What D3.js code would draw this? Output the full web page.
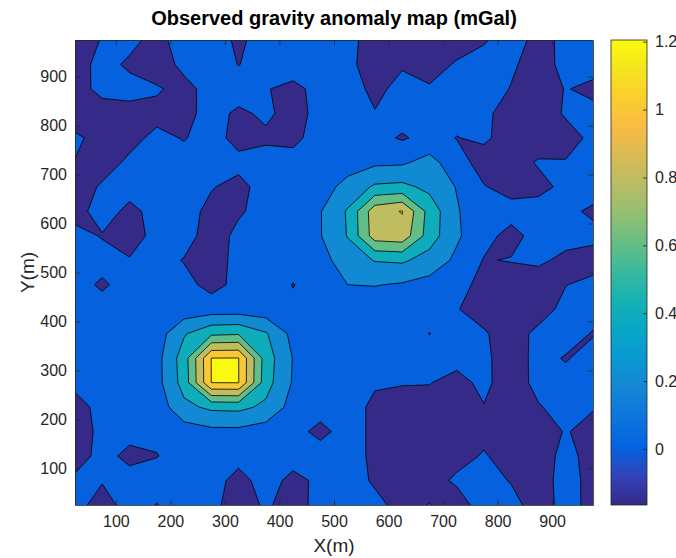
<!DOCTYPE html>
<html>
<head>
<meta charset="utf-8">
<script src="https://cdn.jsdelivr.net/npm/d3@7"></script>
<style>
  body { margin: 0; background: #fff; }
  text { font-family: "Liberation Sans", Arial, sans-serif; fill: #262626; }
</style>
</head>
<body>
<div id="chart"></div>
<script>
// grid of observation points (m)
const xGrid = [25, 75, 125, 175, 225, 275, 325, 375, 425, 475, 525, 575, 625, 675, 725, 775, 825, 875, 925, 975];
const yGrid = [975, 925, 875, 825, 775, 725, 675, 625, 575, 525, 475, 425, 375, 325, 275, 225, 175, 125, 75, 25];

// observed anomaly (mGal), one row per yGrid value, top row first
const anomaly = [
  [-0.09, 0.01, 0.05, -0.06, 0.09, 0.08, -0.03, 0.07, 0.06, 0.08, 0.04, -0.06, -0.10, -0.08, -0.09, -0.02, 0.10, -0.07, 0.05, 0.06],
  [-0.08, 0.06, -0.03, -0.10, 0.05, 0.09, -0.005, 0.08, 0.10, 0.07, 0.035, -0.07, -0.02, -0.08, 0.02, 0.08, 0.03, -0.09, 0.06, 0.08],
  [-0.07, 0.05, 0.06, 0.02, -0.06, 0.07, 0.08, 0.01, -0.05, 0.06, 0.09, -0.05, 0.06, 0.02, 0.09, 0.10, -0.01, -0.11, 0.01, -0.05],
  [-0.10, -0.08, -0.06, -0.05, -0.05, 0.06, -0.03, 0.03, -0.06, 0.05, 0.08, 0.01, 0.08, 0.07, 0.06, 0.03, -0.06, -0.10, 0.02, 0.06],
  [0.03, -0.06, -0.05, 0.04, -0.01, 0.07, -0.06, -0.03, -0.04, 0.07, 0.08, 0.06, -0.02, 0.06, -0.005, 0.03, -0.08, -0.12, -0.07, 0.04],
  [-0.005, -0.07, 0.03, 0.07, 0.06, 0.08, 0.05, 0.07, 0.06, 0.08, 0.12, 0.16, 0.17, 0.27, 0.08, -0.08, -0.09, 0.02, 0.01, 0.07],
  [-0.08, 0.02, 0.06, 0.08, 0.05, 0.01, -0.05, 0.07, 0.09, 0.12, 0.26, 0.43, 0.45, 0.35, 0.19, 0.01, -0.07, -0.06, 0.05, 0.08],
  [-0.06, 0.07, -0.04, 0.05, 0.06, -0.04, -0.02, 0.06, 0.08, 0.19, 0.42, 0.92, 1.01, 0.52, 0.22, 0.05, 0.07, 0.09, 0.04, -0.03],
  [0.05, -0.01, -0.07, 0.05, 0.07, -0.08, 0.04, 0.08, 0.06, 0.19, 0.41, 0.90, 0.93, 0.50, 0.23, 0.06, -0.06, 0.07, 0.06, 0.05],
  [0.08, 0.06, 0.01, 0.07, -0.01, -0.09, 0.06, 0.08, 0.07, 0.13, 0.30, 0.41, 0.43, 0.32, 0.16, -0.01, 0.01, 0.03, -0.04, -0.08],
  [0.06, -0.025, 0.07, 0.05, 0.06, -0.06, 0.05, 0.07, -0.005, 0.07, 0.20, 0.21, 0.18, 0.13, 0.08, -0.07, -0.11, -0.09, -0.005, 0.05],
  [0.05, 0.07, 0.06, 0.02, 0.08, 0.10, 0.10, 0.08, 0.03, 0.06, 0.08, 0.05, 0.07, 0.06, 0.01, -0.08, -0.03, -0.09, 0.06, 0.07],
  [0.06, 0.05, 0.07, 0.10, 0.38, 0.56, 0.58, 0.42, 0.14, 0.07, 0.05, 0.08, 0.06, -0.003, 0.06, 0.02, -0.09, 0.05, 0.08, -0.012],
  [0.07, 0.06, 0.08, 0.13, 0.50, 1.202, 1.204, 0.50, 0.19, 0.06, 0.07, 0.05, 0.07, 0.06, 0.04, 0.04, -0.10, 0.06, -0.014, 0.07],
  [0.04, 0.07, 0.06, 0.13, 0.48, 1.201, 1.205, 0.48, 0.18, 0.07, 0.05, 0.01, 0.015, 0.005, -0.04, 0.03, -0.07, 0.04, 0.06, 0.05],
  [-0.06, 0.05, 0.07, 0.08, 0.35, 0.44, 0.45, 0.36, 0.12, 0.06, 0.04, -0.02, -0.10, -0.05, -0.06, -0.005, -0.09, -0.01, 0.05, 0.01],
  [-0.08, 0.04, 0.05, 0.03, 0.10, 0.15, 0.15, 0.10, 0.05, -0.04, 0.06, -0.03, -0.12, -0.07, -0.05, -0.03, -0.11, -0.07, 0.01, -0.05],
  [-0.07, 0.05, -0.04, -0.005, 0.06, 0.07, 0.05, 0.08, 0.06, 0.07, 0.06, -0.03, -0.165, -0.06, -0.04, 0.01, -0.05, -0.08, 0.05, -0.06],
  [0.03, 0.01, 0.06, 0.07, 0.05, 0.06, -0.05, 0.06, -0.04, 0.03, 0.07, -0.02, -0.10, -0.05, 0.02, 0.06, -0.01, -0.07, 0.06, -0.05],
  [0.05, -0.06, 0.06, -0.005, 0.07, 0.04, -0.07, 0.02, -0.06, 0.05, 0.07, 0.04, -0.05, 0.005, -0.06, 0.06, 0.05, -0.07, 0.05, -0.04]
];

const levels = [0, 0.2, 0.4, 0.6, 0.8, 1, 1.2];
const xTicks = [100, 200, 300, 400, 500, 600, 700, 800, 900];
const yTicks = [100, 200, 300, 400, 500, 600, 700, 800, 900];
const cbTicks = [0, 0.2, 0.4, 0.6, 0.8, 1, 1.2];

// parula colormap, sampled
const parula = ['#352a87', '#3243ba', '#0363e1', '#0d75dc', '#1485d4', '#0998d1', '#06a7c6', '#15b1b4',
  '#38b99e', '#65be86', '#92bf73', '#b7bd64', '#d9ba56', '#f8bb44', '#fcce2e', '#f5e41d', '#f9fb0e'];

const width = 676;
const height = 558;
const plot = { left: 75, right: 593, top: 40, bottom: 505 };
const bar = { left: 611, right: 647 };

const svg = d3.select('#chart')
    .append('svg')
    .attr('width', width)
    .attr('height', height);

svg.append('rect')
    .attr('width', width)
    .attr('height', height)
    .attr('fill', '#fff');

const x = d3.scaleLinear()
    .domain([xGrid[0], xGrid[xGrid.length - 1]])
    .range([plot.left, plot.right]);

const y = d3.scaleLinear()
    .domain([yGrid[yGrid.length - 1], yGrid[0]])
    .range([plot.bottom, plot.top]);

// d3.contours puts sample i at grid coordinate i + 0.5
const gx = d3.scaleLinear()
    .domain([0.5, xGrid.length - 0.5])
    .range([xGrid[0], xGrid[xGrid.length - 1]]);
const gy = d3.scaleLinear()
    .domain([0.5, yGrid.length - 0.5])
    .range([yGrid[0], yGrid[yGrid.length - 1]]);

const values = anomaly.flat();
const vmin = d3.min(values);
const vmax = d3.max(values);

const cmap = d3.scaleLinear()
    .domain(parula.map((c, i) => i / (parula.length - 1)))
    .range(parula)
    .clamp(true);
const color = v => cmap((v - vmin) / (vmax - vmin));

const contours = d3.contours()
    .size([xGrid.length, yGrid.length])
    .thresholds(levels)(values);

const path = d3.geoPath(d3.geoTransform({
    point: function(px, py) { this.stream.point(x(gx(px)), y(gy(py))); }
}));

svg.append('clipPath')
    .attr('id', 'clip')
    .append('rect')
    .attr('x', plot.left)
    .attr('y', plot.top)
    .attr('width', plot.right - plot.left)
    .attr('height', plot.bottom - plot.top);

const map = svg.append('g').attr('clip-path', 'url(#clip)');

// lowest band: below the first level
map.append('rect')
    .attr('x', plot.left)
    .attr('y', plot.top)
    .attr('width', plot.right - plot.left)
    .attr('height', plot.bottom - plot.top)
    .attr('fill', color(vmin));

map.selectAll('path')
    .data(contours)
    .join('path')
    .attr('d', path)
    .attr('fill', d => color(d.value))
    .attr('stroke', '#000')
    .attr('stroke-width', 0.8)
    .attr('stroke-linejoin', 'round');

// axes, ticks pointing inwards like MATLAB
function styleAxis(g, size) {
    g.selectAll('.domain').attr('stroke', '#262626').attr('stroke-width', 0.8);
    g.selectAll('.tick line').attr('stroke', '#262626').attr('stroke-width', 0.8);
    g.selectAll('.tick text').attr('font-size', size).attr('fill', '#262626')
        .attr('font-family', '"Liberation Sans", Arial, sans-serif');
}

svg.append('g')
    .attr('transform', `translate(0,${plot.bottom})`)
    .call(d3.axisBottom(x).tickValues(xTicks).tickSizeInner(-5).tickSizeOuter(0).tickPadding(11))
    .call(g => styleAxis(g, 16));

svg.append('g')
    .attr('transform', `translate(0,${plot.top})`)
    .call(d3.axisTop(x).tickValues(xTicks).tickSizeInner(-5).tickSizeOuter(0).tickFormat(''))
    .call(g => styleAxis(g, 16));

svg.append('g')
    .attr('transform', `translate(${plot.left},0)`)
    .call(d3.axisLeft(y).tickValues(yTicks).tickSizeInner(-5).tickSizeOuter(0).tickPadding(8))
    .call(g => styleAxis(g, 16));

svg.append('g')
    .attr('transform', `translate(${plot.right},0)`)
    .call(d3.axisRight(y).tickValues(yTicks).tickSizeInner(-5).tickSizeOuter(0).tickFormat(''))
    .call(g => styleAxis(g, 16));

// colorbar
const cb = d3.scaleLinear()
    .domain([vmin, vmax])
    .range([plot.bottom, plot.top]);

const grad = svg.append('defs')
    .append('linearGradient')
    .attr('id', 'parula')
    .attr('x1', 0).attr('y1', 1)
    .attr('x2', 0).attr('y2', 0);

grad.selectAll('stop')
    .data(parula)
    .join('stop')
    .attr('offset', (d, i) => i / (parula.length - 1))
    .attr('stop-color', d => d);

svg.append('rect')
    .attr('x', bar.left)
    .attr('y', plot.top)
    .attr('width', bar.right - bar.left)
    .attr('height', plot.bottom - plot.top)
    .attr('fill', 'url(#parula)')
    .attr('stroke', '#262626')
    .attr('stroke-width', 0.8);

svg.append('g')
    .attr('transform', `translate(${bar.right},0)`)
    .call(d3.axisRight(cb).tickValues(cbTicks).tickSizeInner(-4).tickSizeOuter(0)
        .tickPadding(8).tickFormat(d3.format('~g')))
    .call(g => g.select('.domain').remove())
    .call(g => styleAxis(g, 16));

// labels
svg.append('text')
    .attr('x', (plot.left + plot.right) / 2)
    .attr('y', 25)
    .attr('text-anchor', 'middle')
    .attr('font-size', 20)
    .attr('font-weight', 'bold')
    .style('fill', '#000')
    .text('Observed gravity anomaly map (mGal)');

svg.append('text')
    .attr('x', (plot.left + plot.right) / 2)
    .attr('y', 552)
    .attr('text-anchor', 'middle')
    .attr('font-size', 19)
    .text('X(m)');

svg.append('text')
    .attr('transform', `translate(34,${(plot.top + plot.bottom) / 2}) rotate(-90)`)
    .attr('text-anchor', 'middle')
    .attr('font-size', 19)
    .text('Y(m)');
</script>
</body>
</html>
